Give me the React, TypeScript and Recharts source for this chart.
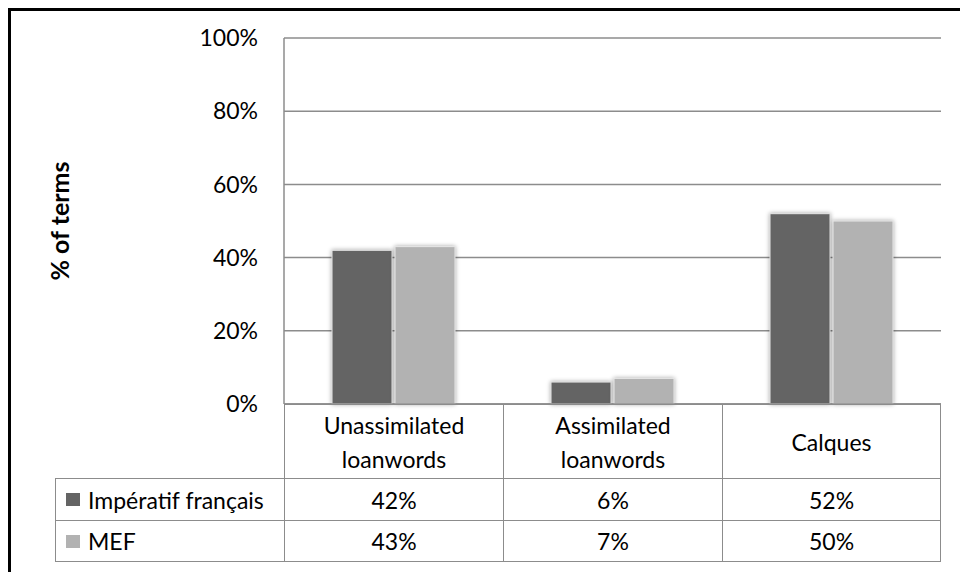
import { BarChart, Bar, XAxis, YAxis, CartesianGrid } from 'recharts';

const categories = ['Unassimilated loanwords', 'Assimilated loanwords', 'Calques'];
const categoryLines = [['Unassimilated', 'loanwords'], ['Assimilated', 'loanwords'], ['Calques']];
const imperatif = [42, 6, 52];
const mef = [43, 7, 50];
const yTicks = [0, 20, 40, 60, 80, 100];

const seriesList = [
  { key: 'imperatif', name: 'Impératif français', values: imperatif, color: '#646464' },
  { key: 'mef', name: 'MEF', values: mef, color: '#b2b2b2' },
];

const data = categories.map((c, i) => ({ category: c, imperatif: imperatif[i], mef: mef[i] }));

const FONT = 'Lato, "Open Sans", sans-serif';
const LINE = '#8c8c8c';

const ShadowBar = (props: any) => {
  const { x, y, width, height, fill } = props;
  if (!height || height <= 0) return null;
  return (
    <rect
      x={x}
      y={y}
      width={width}
      height={height}
      fill={fill}
      stroke="#e8e8e8"
      strokeWidth={1}
      style={{ filter: 'drop-shadow(0 0 2px rgba(0,0,0,0.35))' }}
    />
  );
};

function DataTable() {
  const colWidths = [229, 219, 219, 219];
  const cell = (row: number, col: number, lastRow: boolean): React.CSSProperties => {
    const blank = row === 0 && col === 0;
    return {
      boxSizing: 'border-box',
      borderTop: blank ? 'none' : `1.5px solid ${LINE}`,
      borderLeft: blank ? 'none' : `1.5px solid ${LINE}`,
      borderRight: col === colWidths.length - 1 ? `1.5px solid ${LINE}` : 'none',
      borderBottom: lastRow ? `1.5px solid ${LINE}` : 'none',
      display: 'flex',
      flexDirection: 'column',
      alignItems: col === 0 ? 'flex-start' : 'center',
      justifyContent: 'center',
      textAlign: 'center',
      fontSize: 23,
      lineHeight: '34px',
      color: '#000',
    };
  };
  return (
    <div
      style={{
        position: 'absolute',
        left: 55,
        top: 404,
        display: 'grid',
        gridTemplateColumns: colWidths.map((w) => `${w}px`).join(' '),
        gridTemplateRows: '74px 42px 42px',
        fontFamily: FONT,
      }}
    >
      <div style={cell(0, 0, false)} />
      {categoryLines.map((lines, i) => (
        <div key={categories[i]} style={cell(0, i + 1, false)}>
          {lines.map((l) => (
            <span key={l}>{l}</span>
          ))}
        </div>
      ))}
      {seriesList.map((s, r) => (
        <>
          <div key={s.key} style={{ ...cell(r + 1, 0, r === seriesList.length - 1), paddingLeft: 10 }}>
            <span style={{ display: 'flex', alignItems: 'center' }}>
              <span style={{ width: 14, height: 13, background: s.color, marginRight: 8, display: 'inline-block' }} />
              {s.name}
            </span>
          </div>
          {s.values.map((v, i) => (
            <div key={s.key + i} style={cell(r + 1, i + 1, r === seriesList.length - 1)}>
              {v}%
            </div>
          ))}
        </>
      ))}
    </div>
  );
}

export default function App() {
  return (
    <div style={{ position: 'fixed', left: 0, top: 0, width: 960, height: 572, background: '#fff', fontFamily: FONT }}>
      <div
        style={{
          position: 'absolute',
          left: 8,
          top: 8,
          width: 952,
          height: 564,
          boxSizing: 'border-box',
          borderTop: '3px solid #000',
          borderLeft: '3px solid #000',
        }}
      />
      <div style={{ position: 'absolute', left: 0, top: 0 }}>
        <BarChart
          width={960}
          height={572}
          data={data}
          margin={{ top: 38, right: 19, bottom: 0, left: 40 }}
          barSize={60}
          barGap={3}
        >
          <CartesianGrid vertical={false} stroke={LINE} strokeWidth={1.5} />
          <XAxis dataKey="category" height={168} tick={false} tickLine={false} axisLine={{ stroke: LINE, strokeWidth: 1.5 }} />
          <YAxis
            width={244}
            domain={[0, 100]}
            ticks={yTicks}
            tickFormatter={(v) => `${v}%`}
            tickLine={false}
            tickSize={0}
            tickMargin={26}
            axisLine={{ stroke: LINE, strokeWidth: 1.5 }}
            tick={{ fill: '#000', fontSize: 23, fontFamily: FONT }}
            label={{
              value: '% of terms',
              angle: -90,
              position: 'insideLeft',
              offset: 20,
              style: { textAnchor: 'middle', fontWeight: 'bold', fontSize: 25, fill: '#000', fontFamily: FONT },
            }}
          />
          {seriesList.map((s) => (
            <Bar key={s.key} dataKey={s.key} name={s.name} fill={s.color} shape={ShadowBar} isAnimationActive={false} />
          ))}
        </BarChart>
      </div>
      <DataTable />
    </div>
  );
}
